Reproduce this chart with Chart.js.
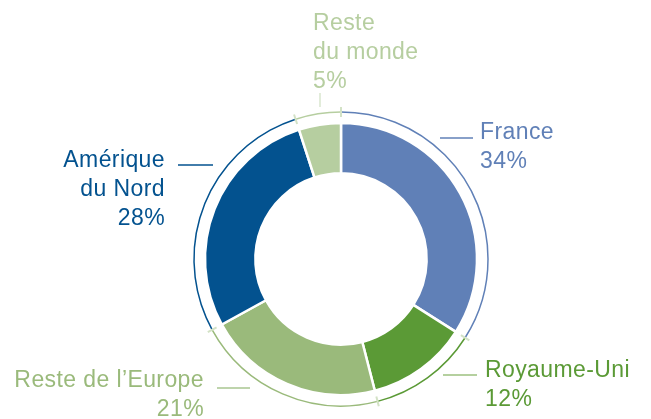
<!DOCTYPE html>
<html>
<head>
<meta charset="utf-8">
<script src="https://cdn.jsdelivr.net/npm/chart.js@4.4.1/dist/chart.umd.min.js"></script>
<style>
  html, body { margin: 0; padding: 0; background: #fff; }
  canvas { display: block; }
</style>
</head>
<body>
<canvas id="chart" width="651" height="419"></canvas>
<script>
// data
const categories = ['France', 'Royaume-Uni', 'Reste de l’Europe', 'Amérique du Nord', 'Reste du monde'];
const labelLines = [['France'], ['Royaume-Uni'], ['Reste de l’Europe'], ['Amérique', 'du Nord'], ['Reste', 'du monde']];
const shares = [34, 12, 21, 28, 5];

// styles
const colors = ['#6080b7', '#5b9a36', '#9aba7b', '#03528f', '#b6cea0'];
const leaderColors = ['#6080b7', '#9cc07f', '#a9c690', '#03528f', '#d3e2c6'];
// label placement, offsets from the donut centre
const labelPos = [
  { x: 139, y: -120, align: 'left', line: [99, -121, 132, -121] },
  { x: 144, y: 118, align: 'left', line: [102, 116, 136, 116] },
  { x: -137, y: 128, align: 'right', line: [-124, 129, -91, 129] },
  { x: -176, y: -92, align: 'right', line: [-163, -94, -128, -94] },
  { x: -28, y: -229, align: 'left', line: [-21, -166, -21, -152] }
];
const lineHeight = 29;

const ringPlugin = {
  id: 'ring',
  afterDatasetsDraw(chart) {
    const ctx = chart.ctx;
    const arcs = chart.getDatasetMeta(0).data;
    ctx.save();
    arcs.forEach((a, i) => {
      const r = a.outerRadius + 11;
      ctx.beginPath();
      ctx.arc(a.x, a.y, r, a.startAngle, a.endAngle);
      ctx.strokeStyle = colors[i];
      ctx.lineWidth = 1.5;
      ctx.stroke();
    });
    arcs.forEach(a => {
      const r = a.outerRadius + 11;
      const c = Math.cos(a.startAngle), s = Math.sin(a.startAngle);
      ctx.beginPath();
      ctx.moveTo(a.x + c * (r - 5), a.y + s * (r - 5));
      ctx.lineTo(a.x + c * (r + 5), a.y + s * (r + 5));
      ctx.strokeStyle = '#d3e2c6';
      ctx.lineWidth = 2;
      ctx.stroke();
    });
    // labels
    ctx.font = '23px "Liberation Sans", Arial, sans-serif';
    ctx.letterSpacing = '0.4px';
    ctx.textBaseline = 'alphabetic';
    arcs.forEach((a, i) => {
      const p = labelPos[i];
      const lines = labelLines[i].concat([shares[i] + '%']);
      ctx.fillStyle = colors[i];
      ctx.textAlign = p.align;
      lines.forEach((t, k) => ctx.fillText(t, a.x + p.x, a.y + p.y + k * lineHeight));
      ctx.beginPath();
      ctx.moveTo(a.x + p.line[0], a.y + p.line[1]);
      ctx.lineTo(a.x + p.line[2], a.y + p.line[3]);
      ctx.strokeStyle = leaderColors[i];
      ctx.lineWidth = 1.3;
      ctx.stroke();
    });
    ctx.restore();
  }
};

new Chart(document.getElementById('chart').getContext('2d'), {
  type: 'doughnut',
  data: {
    labels: categories,
    datasets: [{
      data: shares,
      backgroundColor: colors,
      borderColor: '#ffffff',
      borderWidth: 2.5
    }]
  },
  options: {
    responsive: false,
    animation: false,
    radius: 136,
    cutout: 88,
    layout: { padding: { left: 200, right: 169, top: 110, bottom: 11 } },
    plugins: { legend: { display: false }, tooltip: { enabled: false } }
  },
  plugins: [ringPlugin]
});
</script>
</body>
</html>
